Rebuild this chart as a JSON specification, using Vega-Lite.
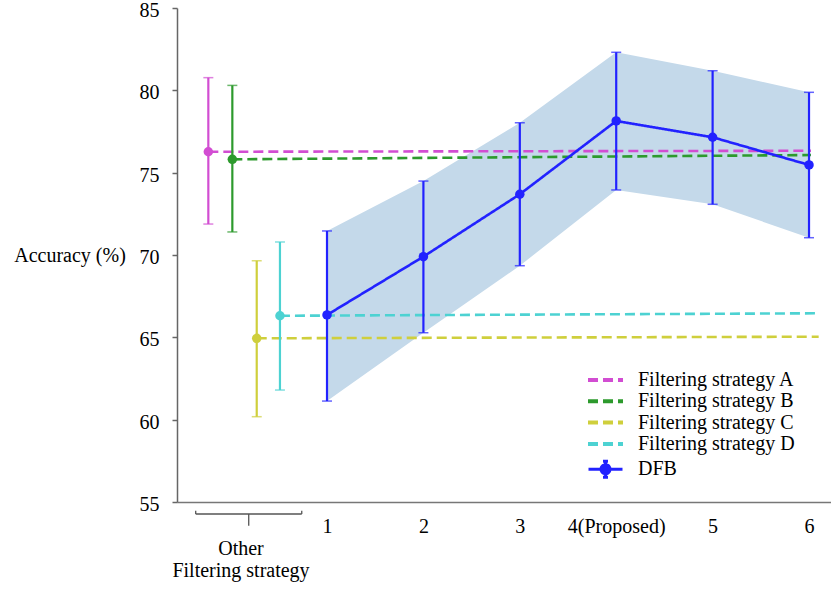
{
  "$schema": "https://vega.github.io/schema/vega-lite/v6.json",
  "width": 654,
  "height": 494,
  "autosize": {"type": "none"},
  "padding": {"left": 177, "top": 8, "right": 0, "bottom": 88},
  "background": "white",
  "config": {"view": {"stroke": null}, "font": "Liberation Serif"},
  "datasets": {
    "pts": [
      {"series": "Filtering strategy A", "x": -0.231, "mean": 76.27, "lo": 71.88, "hi": 80.77},
      {"series": "Filtering strategy B", "x": 0.018, "mean": 75.81, "lo": 71.4, "hi": 80.3},
      {"series": "Filtering strategy C", "x": 0.271, "mean": 64.94, "lo": 60.18, "hi": 69.65},
      {"series": "Filtering strategy D", "x": 0.512, "mean": 66.31, "lo": 61.8, "hi": 70.79},
      {"series": "DFB", "x": 1, "mean": 66.36, "lo": 61.13, "hi": 71.46},
      {"series": "DFB", "x": 2, "mean": 69.9, "lo": 65.28, "hi": 74.49},
      {"series": "DFB", "x": 3, "mean": 73.69, "lo": 69.35, "hi": 78.03},
      {"series": "DFB", "x": 4, "mean": 78.14, "lo": 73.95, "hi": 82.31},
      {"series": "DFB", "x": 5, "mean": 77.15, "lo": 73.08, "hi": 81.19},
      {"series": "DFB", "x": 6, "mean": 75.47, "lo": 71.05, "hi": 79.88}
    ],
    "lines": [
      {"series": "Filtering strategy A", "x": -0.231, "y": 76.27},
      {"series": "Filtering strategy A", "x": 6.02, "y": 76.33},
      {"series": "Filtering strategy B", "x": 0.018, "y": 75.81},
      {"series": "Filtering strategy B", "x": 6.02, "y": 76.07},
      {"series": "Filtering strategy C", "x": 0.271, "y": 64.94},
      {"series": "Filtering strategy C", "x": 6.1, "y": 65.04},
      {"series": "Filtering strategy D", "x": 0.512, "y": 66.31},
      {"series": "Filtering strategy D", "x": 6.1, "y": 66.46},
      {"series": "DFB", "x": 1, "y": 66.36},
      {"series": "DFB", "x": 2, "y": 69.9},
      {"series": "DFB", "x": 3, "y": 73.69},
      {"series": "DFB", "x": 4, "y": 78.14},
      {"series": "DFB", "x": 5, "y": 77.15},
      {"series": "DFB", "x": 6, "y": 75.47}
    ],
    "hbar": [{"x": -0.362, "x2": 0.738, "y": 54.27}],
    "vbar": [
      {"x": -0.362, "y": 54.27, "y2": 54.47},
      {"x": 0.738, "y": 54.27, "y2": 54.47},
      {"x": 0.188, "y": 54.27, "y2": 53.56}
    ],
    "labels": [
      {"x": 0.108, "y": 51.78, "text": "Other"},
      {"x": 0.108, "y": 50.445, "text": "Filtering strategy"}
    ]
  },
  "layer": [
    {
      "data": {"name": "pts"},
      "transform": [{"filter": "datum.series === 'DFB'"}],
      "mark": {"type": "area", "color": "#c4d9ea", "opacity": 1},
      "encoding": {
        "x": {
          "field": "x", "type": "quantitative",
          "scale": {"domain": [-0.556, 6.228], "nice": false, "zero": false},
          "axis": {
            "values": [1, 2, 3, 4, 5, 6],
            "format": "d",
            "labelExpr": "datum.value == 4 ? '4(Proposed)' : datum.label",
            "title": null, "grid": false, "ticks": false, "tickSize": 0,
            "domainColor": "#777777", "domainWidth": 1.5,
            "labelFontSize": 20, "labelColor": "black", "labelPadding": 14,
            "labelFlush": false, "labelFont": "Liberation Serif"
          }
        },
        "y": {
          "field": "lo", "type": "quantitative",
          "scale": {"domain": [55, 85], "nice": false, "zero": false},
          "axis": {
            "values": [55, 60, 65, 70, 75, 80, 85],
            "title": "Accuracy (%)", "titleAngle": 0, "titleAlign": "center",
            "titleBaseline": "alphabetic", "titleX": -107.5, "titleY": 253.7,
            "titleFontSize": 20, "titleFontWeight": "normal", "titleColor": "black",
            "titleFont": "Liberation Serif",
            "grid": false, "tickSize": 5, "tickColor": "#666666", "tickWidth": 1.5,
            "domainColor": "#666666", "domainWidth": 1.5,
            "labelFontSize": 20, "labelColor": "black", "labelPadding": 13,
            "labelOffset": 2.5,
            "labelFont": "Liberation Serif"
          }
        },
        "y2": {"field": "hi"}
      }
    },
    {
      "data": {"name": "lines"},
      "mark": {"type": "line", "strokeWidth": 2.6},
      "encoding": {
        "x": {"field": "x", "type": "quantitative"},
        "y": {"field": "y", "type": "quantitative"},
        "color": {
          "field": "series", "type": "nominal",
          "scale": {
            "domain": ["Filtering strategy A", "Filtering strategy B", "Filtering strategy C", "Filtering strategy D", "DFB"],
            "range": ["#d24dd2", "#2d9a2d", "#cfcf3c", "#4dd2d2", "#2222ff"]
          },
          "legend": {
            "orient": "none", "legendX": 418.5, "legendY": 362, "title": null,
            "padding": 0, "labelFontSize": 20, "labelColor": "black", "labelFont": "Liberation Serif",
            "symbolType": "M-1.75,0L1.75,0", "symbolSize": 400, "symbolStrokeWidth": 4,
            "rowPadding": 1.3, "labelOffset": 22.5,
            "encode": {
              "symbols": {
                "update": {
                  "shape": {"signal": "datum.value === 'DFB' ? 'M-1.7,0L1.7,0M0,-0.8L0,0.8M-0.25,-0.8L0.25,-0.8M-0.25,0.8L0.25,0.8M0.45,0A0.45,0.45,0,1,1,-0.45,0A0.45,0.45,0,1,1,0.45,0Z' : 'M-1.75,0L1.75,0'"},
                  "fill": {"signal": "datum.value === 'DFB' ? '#2222ff' : 'transparent'"},
                  "strokeDash": {"signal": "datum.value === 'DFB' ? [1,0] : [13,9]"},
                  "strokeWidth": {"signal": "datum.value === 'DFB' ? 3 : 4"}
                }
              }
            }
          }
        },
        "strokeDash": {
          "field": "series", "type": "nominal",
          "scale": {
            "domain": ["Filtering strategy A", "Filtering strategy B", "Filtering strategy C", "Filtering strategy D", "DFB"],
            "range": [[10, 5], [10, 5], [10, 5], [10, 5], [1, 0]]
          },
          "legend": {
            "orient": "none", "legendX": 418.5, "legendY": 362, "title": null,
            "padding": 0, "labelFontSize": 20, "labelColor": "black", "labelFont": "Liberation Serif",
            "symbolType": "M-1.75,0L1.75,0", "symbolSize": 400, "symbolStrokeWidth": 4,
            "rowPadding": 1.3, "labelOffset": 22.5
          }
        },
        "order": {"field": "x", "type": "quantitative"}
      }
    },
    {
      "data": {"name": "pts"},
      "mark": {"type": "rule", "strokeWidth": 2.2},
      "encoding": {
        "x": {"field": "x", "type": "quantitative"},
        "y": {"field": "lo", "type": "quantitative"},
        "y2": {"field": "hi"},
        "color": {"field": "series", "type": "nominal", "legend": null}
      }
    },
    {
      "data": {"name": "pts"},
      "mark": {"type": "tick", "orient": "horizontal", "size": 10, "thickness": 1.5},
      "encoding": {
        "x": {"field": "x", "type": "quantitative"},
        "y": {"field": "lo", "type": "quantitative"},
        "color": {"field": "series", "type": "nominal", "legend": null}
      }
    },
    {
      "data": {"name": "pts"},
      "mark": {"type": "tick", "orient": "horizontal", "size": 10, "thickness": 1.5},
      "encoding": {
        "x": {"field": "x", "type": "quantitative"},
        "y": {"field": "hi", "type": "quantitative"},
        "color": {"field": "series", "type": "nominal", "legend": null}
      }
    },
    {
      "data": {"name": "pts"},
      "mark": {"type": "circle", "size": 90, "opacity": 1},
      "encoding": {
        "x": {"field": "x", "type": "quantitative"},
        "y": {"field": "mean", "type": "quantitative"},
        "color": {"field": "series", "type": "nominal", "legend": null}
      }
    },
    {
      "data": {"name": "hbar"},
      "mark": {"type": "rule", "color": "#555555", "strokeWidth": 1.3, "clip": false},
      "encoding": {
        "x": {"field": "x", "type": "quantitative"},
        "x2": {"field": "x2"},
        "y": {"field": "y", "type": "quantitative"}
      }
    },
    {
      "data": {"name": "vbar"},
      "mark": {"type": "rule", "color": "#555555", "strokeWidth": 1.3, "clip": false},
      "encoding": {
        "x": {"field": "x", "type": "quantitative"},
        "y": {"field": "y", "type": "quantitative"},
        "y2": {"field": "y2"}
      }
    },
    {
      "data": {"name": "labels"},
      "mark": {"type": "text", "fontSize": 20, "font": "Liberation Serif", "color": "black", "align": "center", "baseline": "alphabetic", "clip": false},
      "encoding": {
        "x": {"field": "x", "type": "quantitative"},
        "y": {"field": "y", "type": "quantitative"},
        "text": {"field": "text"}
      }
    }
  ]
}
